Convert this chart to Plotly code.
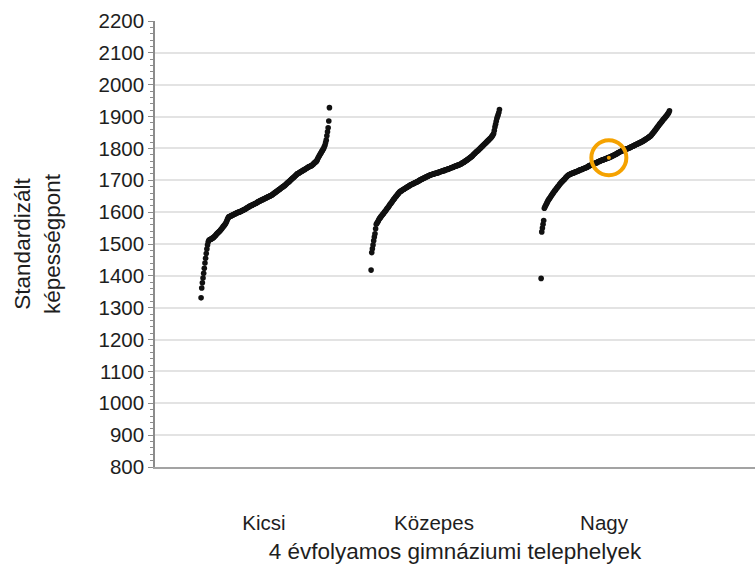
import plotly.graph_objects as go

# ---------------- data ----------------
categories = ["Kicsi", "Közepes", "Nagy"]

# sorted standardized ability scores of the sites in each size group
kicsi = [
    1331, 1362, 1378, 1393, 1408, 1424, 1440, 1455, 1470, 1484,
    1497, 1506, 1511, 1513, 1514, 1515, 1516, 1518, 1519, 1520,
    1522, 1524, 1526, 1528, 1531, 1533, 1535, 1537, 1539, 1541,
    1543, 1546, 1548, 1551, 1554, 1556, 1559, 1561, 1564, 1568,
    1573, 1578, 1582, 1585, 1586, 1587, 1588, 1589, 1590, 1591,
    1592, 1593, 1594, 1595, 1596, 1597, 1598, 1599, 1600, 1600,
    1601, 1602, 1603, 1604, 1605, 1606, 1607, 1608, 1609, 1610,
    1612, 1613, 1614, 1615, 1617, 1618, 1619, 1620, 1621, 1622,
    1623, 1624, 1625, 1626, 1627, 1628, 1629, 1631, 1632, 1633,
    1634, 1635, 1636, 1637, 1638, 1639, 1640, 1641, 1642, 1643,
    1644, 1645, 1646, 1647, 1648, 1649, 1650, 1651, 1652, 1653,
    1654, 1656, 1657, 1659, 1660, 1662, 1663, 1665, 1666, 1668,
    1669, 1671, 1672, 1674, 1675, 1677, 1678, 1680, 1681, 1683,
    1684, 1686, 1688, 1690, 1692, 1694, 1695, 1697, 1699, 1701,
    1703, 1705, 1707, 1708, 1710, 1712, 1714, 1716, 1718, 1720,
    1721, 1722, 1723, 1725, 1726, 1727, 1728, 1730, 1731, 1732,
    1733, 1734, 1736, 1737, 1738, 1740, 1741, 1742, 1743, 1744,
    1745, 1746, 1747, 1749, 1751, 1753, 1755, 1757, 1758, 1760,
    1764, 1768, 1772, 1776, 1779, 1783, 1786, 1790, 1793, 1797,
    1800, 1805, 1810, 1818, 1826, 1840, 1852, 1865, 1886, 1928,
]

kozepes = [
    1418, 1473, 1485, 1497, 1510, 1522, 1532, 1548, 1562, 1565,
    1568, 1572, 1576, 1580, 1582, 1585, 1588, 1590, 1593, 1595,
    1598, 1601, 1603, 1606, 1609, 1612, 1614, 1617, 1620, 1623,
    1626, 1628, 1631, 1634, 1637, 1640, 1642, 1645, 1648, 1650,
    1653, 1655, 1658, 1660, 1663, 1664, 1666, 1667, 1668, 1670,
    1671, 1672, 1674, 1675, 1676, 1677, 1679, 1680, 1681, 1682,
    1684, 1685, 1686, 1687, 1688, 1689, 1690, 1691, 1692, 1693,
    1694, 1695, 1696, 1697, 1698, 1700, 1701, 1702, 1703, 1704,
    1705, 1706, 1707, 1708, 1709, 1710, 1711, 1712, 1713, 1714,
    1715, 1716, 1717, 1717, 1718, 1719, 1719, 1720, 1721, 1721,
    1722, 1722, 1723, 1724, 1724, 1725, 1726, 1727, 1727, 1728,
    1729, 1729, 1730, 1731, 1731, 1732, 1733, 1734, 1734, 1735,
    1736, 1736, 1737, 1738, 1739, 1740, 1740, 1741, 1742, 1743,
    1744, 1745, 1745, 1746, 1747, 1748, 1748, 1749, 1750, 1751,
    1752, 1754, 1755, 1756, 1757, 1759, 1760, 1761, 1763, 1764,
    1766, 1767, 1769, 1770, 1772, 1773, 1775, 1776, 1779, 1781,
    1783, 1785, 1787, 1789, 1791, 1792, 1794, 1796, 1798, 1800,
    1802, 1804, 1806, 1808, 1810, 1812, 1814, 1816, 1818, 1820,
    1822, 1824, 1826, 1828, 1830, 1832, 1834, 1837, 1840, 1843,
    1847, 1856, 1867, 1876, 1885, 1894, 1900, 1906, 1913, 1922,
]

nagy = [
    1392, 1538, 1550, 1562, 1574, 1612, 1617, 1621, 1625, 1629,
    1633, 1637, 1640, 1643, 1646, 1649, 1652, 1655, 1658, 1661,
    1664, 1667, 1669, 1672, 1675, 1677, 1680, 1682, 1685, 1688,
    1690, 1693, 1695, 1697, 1699, 1701, 1703, 1705, 1708, 1710,
    1712, 1714, 1716, 1717, 1718, 1719, 1720, 1721, 1722, 1723,
    1723, 1724, 1725, 1726, 1727, 1727, 1728, 1729, 1730, 1731,
    1732, 1733, 1733, 1734, 1735, 1736, 1737, 1738, 1738, 1739,
    1740, 1741, 1742, 1744, 1745, 1746, 1747, 1747, 1748, 1749,
    1750, 1751, 1752, 1753, 1754, 1754, 1755, 1756, 1758, 1759,
    1759, 1760, 1761, 1762, 1763, 1764, 1764, 1765, 1766, 1767,
    1767, 1768, 1769, 1770, 1771, 1771, 1772, 1773, 1774, 1775,
    1776, 1777, 1778, 1779, 1780, 1781, 1782, 1783, 1784, 1786,
    1787, 1788, 1789, 1790, 1791, 1792, 1793, 1794, 1795, 1796,
    1797, 1797, 1798, 1799, 1799, 1800, 1801, 1802, 1803, 1804,
    1805, 1806, 1807, 1808, 1809, 1810, 1811, 1812, 1813, 1814,
    1815, 1816, 1817, 1818, 1819, 1820, 1821, 1822, 1823, 1824,
    1826, 1827, 1828, 1830, 1831, 1832, 1834, 1835, 1837, 1838,
    1840, 1842, 1845, 1847, 1850, 1852, 1855, 1858, 1860, 1863,
    1866, 1869, 1871, 1874, 1877, 1879, 1882, 1884, 1887, 1890,
    1892, 1894, 1897, 1899, 1902, 1904, 1907, 1910, 1913, 1918,
]

# the highlighted site (orange ring)
highlight_category = "Nagy"
highlight_rank = 105

y_tick_values = list(range(800, 2201, 100))
x_title = "4 évfolyamos gimnáziumi telephelyek"
y_title = "Standardizált<br>képességpont"

# ---------------- styling ----------------
FONT = "Liberation Sans, Arial, sans-serif"
TEXT_COLOR = "#1e1e1e"
AXIS_COLOR = "#8c8c8c"
GRID_COLOR = "#e3e3e3"
ORANGE = "#f5a200"
SPREAD_START = -0.37   # rank spread of each group around its category position
SPREAD_WIDTH = 0.755

groups = [kicsi, kozepes, nagy]


def rank_x(group_pos, rank, n):
    return group_pos + SPREAD_START + SPREAD_WIDTH * rank / (n - 1)


fig = go.Figure()
for gpos, (name, vals) in enumerate(zip(categories, groups), start=1):
    n = len(vals)
    fig.add_trace(go.Scatter(
        x=[rank_x(gpos, k, n) for k in range(n)],
        y=vals,
        mode="markers",
        name=name,
        marker=dict(size=5.6, color="#111111", line=dict(width=0)),
        showlegend=False,
        hoverinfo="y",
    ))

hg = categories.index(highlight_category)
hvals = groups[hg]
hx = rank_x(hg + 1, highlight_rank, len(hvals))
hy = hvals[highlight_rank]
fig.add_trace(go.Scatter(
    x=[hx], y=[hy], mode="markers",
    marker=dict(size=4, color=ORANGE, line=dict(width=0)),
    showlegend=False, hoverinfo="y",
))
fig.add_trace(go.Scatter(
    x=[hx], y=[hy], mode="markers",
    marker=dict(symbol="circle-open", size=35, color=ORANGE,
                line=dict(width=4, color=ORANGE)),
    showlegend=False, hoverinfo="skip",
))

fig.update_layout(
    width=755,
    height=569,
    autosize=False,
    margin=dict(l=155, r=0, t=21, b=102, pad=0),
    paper_bgcolor="white",
    plot_bgcolor="white",
    font=dict(family=FONT, color=TEXT_COLOR, size=20),
    showlegend=False,
    xaxis=dict(
        range=[0.359, 3.888],
        tickmode="array",
        tickvals=[1, 2, 3],
        ticktext=categories,
        ticks="",
        ticklabelstandoff=36,
        showgrid=False,
        zeroline=False,
        showline=True,
        linecolor="#a3a3a3",
        linewidth=2,
        tickfont=dict(family=FONT, size=20.5, color=TEXT_COLOR),
        title=dict(text=x_title, font=dict(family=FONT, size=22.5, color=TEXT_COLOR),
                   standoff=11),
        fixedrange=True,
    ),
    yaxis=dict(
        range=[800, 2200],
        tickmode="array",
        tickvals=y_tick_values,
        ticks="outside",
        ticklen=5,
        tickwidth=1,
        tickcolor=AXIS_COLOR,
        minor=dict(dtick=20, tick0=800, ticks="outside", ticklen=3,
                   tickwidth=1, tickcolor=AXIS_COLOR, showgrid=False),
        showgrid=True,
        gridcolor=GRID_COLOR,
        gridwidth=2,
        zeroline=False,
        showline=True,
        linecolor=AXIS_COLOR,
        linewidth=1.5,
        tickfont=dict(family=FONT, size=20.5, color=TEXT_COLOR),
        title=dict(text=y_title, font=dict(family=FONT, size=22.5, color=TEXT_COLOR),
                   standoff=32),
        fixedrange=True,
    ),
)

fig.write_html("out.html", config={"displayModeBar": False},
               post_script="document.body.style.margin='0';")
